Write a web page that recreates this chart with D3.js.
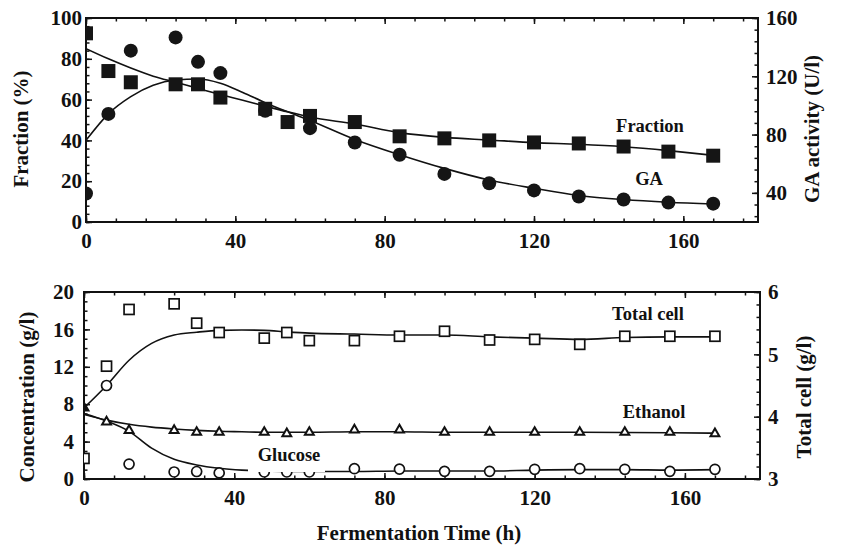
<!DOCTYPE html>
<html lang="en">
<head>
    <meta charset="UTF-8">
    <title>Fermentation time course</title>
    <script src="https://d3js.org/d3.v7.min.js"></script>
    <style>
        body { margin: 0; background-color: #fff; }
        svg { display: block; }
        text { font-family: "Liberation Serif", "Times New Roman", serif; font-weight: bold; fill: #111; }
    </style>
</head>
<body>
    <div id="chart"></div>
    <script>
        // ---- top panel data ----
        const fractionHours = [0, 6, 12, 24, 30, 36, 48, 54, 60, 72, 84, 96, 108, 120, 132, 144, 156, 168];
        const fractionPts = [92.5, 74, 68.5, 67.5, 67.5, 61, 55.5, 49, 52, 49, 42, 41, 40, 39, 38.5, 37, 34.5, 32.5];
        const gaHours = [0, 6, 12, 24, 30, 36, 48, 60, 72, 84, 96, 108, 120, 132, 144, 156, 168];
        const gaPts = [39.6, 94.2, 137.6, 146.7, 129.9, 122.2, 96.3, 84.4, 74.6, 66.2, 53, 46.6, 41.7, 37.5, 35.4, 33.3, 32.6];

        // fitted curves
        const fitHours = [0, 6, 12, 18, 24, 30, 36, 42, 48, 54, 60, 72, 84, 96, 108, 120, 132, 144, 156, 168];
        const fractionFit = [85, 80, 75.5, 71.5, 68.5, 65.5, 62.5, 59.7, 56.8, 54, 51.5, 48, 43.8, 41.5, 40.2, 38.9, 38.1, 36.9, 35, 32.7];
        const gaFit = [76, 94.2, 106, 113.8, 117.4, 118.1, 115.2, 108.9, 101.9, 95.6, 89.7, 76.7, 66.2, 56.8, 48.8, 43.1, 38.2, 35.4, 33.6, 32.4];

        // ---- bottom panel data ----
        const cellHours = [0, 6, 12, 24, 30, 36, 48, 54, 60, 72, 84, 96, 108, 120, 132, 144, 156, 168];
        const cellPts = [3.33, 4.81, 5.72, 5.81, 5.5, 5.35, 5.26, 5.35, 5.22, 5.22, 5.29, 5.37, 5.23, 5.24, 5.16, 5.29, 5.29, 5.29];
        const ethanolHours = [0, 6, 12, 24, 30, 36, 48, 54, 60, 72, 84, 96, 108, 120, 132, 144, 156, 168];
        const ethanolPts = [7.6, 6.1, 5.2, 5.2, 5.0, 5.0, 5.0, 4.85, 5.0, 5.25, 5.25, 5.0, 5.0, 5.0, 5.0, 5.0, 5.0, 4.85];
        const glucoseHours = [6, 12, 24, 30, 36, 48, 54, 60, 72, 84, 96, 108, 120, 132, 144, 156, 168];
        const glucosePts = [10, 1.6, 0.75, 0.8, 0.65, 0.75, 0.75, 0.75, 1.1, 1.05, 0.82, 0.82, 1.04, 1.1, 1.04, 0.82, 1.04];

        const cellFit = [4.14, 4.5, 4.905, 5.175, 5.31, 5.355, 5.385, 5.39, 5.385, 5.36, 5.34, 5.325, 5.31, 5.31, 5.28, 5.26, 5.24, 5.27, 5.28, 5.28];
        const ethanolFit = [6.9, 6.3, 5.85, 5.55, 5.35, 5.2, 5.1, 5.05, 5.0, 5.0, 5.0, 5.05, 5.05, 5.0, 5.0, 5.0, 5.0, 4.98, 4.95, 4.9];
        const glucoseFit = [7.0, 6.2, 5.1, 3.3, 2.1, 1.5, 1.15, 0.95, 0.85, 0.8, 0.8, 0.8, 0.85, 0.85, 0.85, 0.95, 1.0, 1.0, 0.95, 1.0];

        // ticks
        const timeTicks = [0, 40, 80, 120, 160];
        const fractionTicks = [0, 20, 40, 60, 80, 100];
        const gaTicks = [40, 80, 120, 160];
        const concTicks = [0, 4, 8, 12, 16, 20];
        const cellTicks = [3, 4, 5, 6];

        const width = 842, height = 547;
        const svg = d3.select("#chart").append("svg")
            .attr("width", width)
            .attr("height", height);

        const topP = { x0: 86, x1: 758, y0: 18, y1: 222 };
        const botP = { x0: 84, x1: 760, y0: 292, y1: 479 };

        const xTop = d3.scaleLinear().domain([0, 180]).range([topP.x0, topP.x1]);
        const yFrac = d3.scaleLinear().domain([0, 100]).range([topP.y1, topP.y0]);
        const yGA = d3.scaleLinear().domain([20, 160]).range([topP.y1, topP.y0]);

        const xBot = d3.scaleLinear().domain([0, 180]).range([botP.x0, botP.x1]);
        const yConc = d3.scaleLinear().domain([0, 20]).range([botP.y1, botP.y0]);
        const yCell = d3.scaleLinear().domain([3, 6]).range([botP.y1, botP.y0]);

        const defs = svg.append("defs");
        defs.append("clipPath").attr("id", "clipTop").append("rect")
            .attr("x", topP.x0).attr("y", topP.y0 - 10)
            .attr("width", topP.x1 - topP.x0).attr("height", topP.y1 - topP.y0 + 10);
        defs.append("clipPath").attr("id", "clipBot").append("rect")
            .attr("x", botP.x0).attr("y", botP.y0)
            .attr("width", botP.x1 - botP.x0).attr("height", botP.y1 - botP.y0);

        // draws the 4 inward-ticked sides of a panel
        function drawAxes(p, x, yL, yR, yLTicks, yLMinor, yRTicks, yRMinor, leftPad) {
            const g = svg.append("g");
            const fs = "21px";
            const fmt = d3.format("d");

            const minorX = d3.range(0, 181, 8);
            g.append("g").attr("transform", `translate(0,${p.y1})`)
                .call(d3.axisBottom(x).tickValues(minorX).tickSize(-3.5).tickSizeOuter(0).tickFormat(""));
            g.append("g").attr("transform", `translate(0,${p.y1})`)
                .call(d3.axisBottom(x).tickValues(timeTicks).tickSize(-6).tickSizeOuter(0).tickPadding(11).tickFormat(fmt))
                .selectAll("text").style("font-size", fs);
            g.append("g").attr("transform", `translate(0,${p.y0})`)
                .call(d3.axisTop(x).tickValues(minorX).tickSize(-3.5).tickSizeOuter(0).tickFormat(""));
            g.append("g").attr("transform", `translate(0,${p.y0})`)
                .call(d3.axisTop(x).tickValues(timeTicks).tickSize(-6).tickSizeOuter(0).tickFormat(""));

            g.append("g").attr("transform", `translate(${p.x0},0)`)
                .call(d3.axisLeft(yL).tickValues(yLMinor).tickSize(-3.5).tickSizeOuter(0).tickFormat(""));
            g.append("g").attr("transform", `translate(${p.x0},0)`)
                .call(d3.axisLeft(yL).tickValues(yLTicks).tickSize(-6).tickSizeOuter(0).tickPadding(leftPad).tickFormat(fmt))
                .selectAll("text").style("font-size", fs);

            g.append("g").attr("transform", `translate(${p.x1},0)`)
                .call(d3.axisRight(yR).tickValues(yRMinor).tickSize(-3.5).tickSizeOuter(0).tickFormat(""));
            g.append("g").attr("transform", `translate(${p.x1},0)`)
                .call(d3.axisRight(yR).tickValues(yRTicks).tickSize(-6).tickSizeOuter(0).tickPadding(8).tickFormat(fmt))
                .selectAll("text").style("font-size", fs);

            g.selectAll(".domain").remove();
            g.selectAll(".tick line").attr("stroke", "#111").attr("stroke-width", 1.5);
            g.selectAll(".tick text").attr("fill", "#111");

            g.append("rect")
                .attr("x", p.x0).attr("y", p.y0)
                .attr("width", p.x1 - p.x0).attr("height", p.y1 - p.y0)
                .attr("fill", "none").attr("stroke", "#111").attr("stroke-width", 2);
        }

        drawAxes(topP, xTop, yFrac, yGA, fractionTicks, d3.range(0, 101, 4), gaTicks, d3.range(24, 161, 8), 4);
        drawAxes(botP, xBot, yConc, yCell, concTicks, d3.range(0, 21, 1), cellTicks, d3.range(3, 6.01, 0.2), 10);

        // ---- top panel marks ----
        const gTop = svg.append("g").attr("clip-path", "url(#clipTop)");
        const lineStyle = sel => sel.attr("fill", "none").attr("stroke", "#111").attr("stroke-width", 1.6);

        gTop.append("path").datum(fitHours.map((t, i) => [t, fractionFit[i]]))
            .attr("d", d3.line().x(d => xTop(d[0])).y(d => yFrac(d[1])).curve(d3.curveMonotoneX))
            .call(lineStyle);
        gTop.append("path").datum(fitHours.map((t, i) => [t, gaFit[i]]))
            .attr("d", d3.line().x(d => xTop(d[0])).y(d => yGA(d[1])).curve(d3.curveMonotoneX))
            .call(lineStyle);

        gTop.selectAll(".frac").data(fractionHours.map((t, i) => [t, fractionPts[i]]))
            .enter().append("rect")
            .attr("x", d => xTop(d[0]) - 7).attr("y", d => yFrac(d[1]) - 7)
            .attr("width", 14).attr("height", 14)
            .attr("fill", "#151515");
        gTop.selectAll(".ga").data(gaHours.map((t, i) => [t, gaPts[i]]))
            .enter().append("circle")
            .attr("cx", d => xTop(d[0])).attr("cy", d => yGA(d[1]))
            .attr("r", 7)
            .attr("fill", "#151515");

        // ---- bottom panel marks ----
        const gBot = svg.append("g").attr("clip-path", "url(#clipBot)");

        gBot.append("path").datum(fitHours.map((t, i) => [t, cellFit[i]]))
            .attr("d", d3.line().x(d => xBot(d[0])).y(d => yCell(d[1])).curve(d3.curveMonotoneX))
            .call(lineStyle);
        gBot.append("path").datum(fitHours.map((t, i) => [t, ethanolFit[i]]))
            .attr("d", d3.line().x(d => xBot(d[0])).y(d => yConc(d[1])).curve(d3.curveMonotoneX))
            .call(lineStyle);
        gBot.append("path").datum(fitHours.map((t, i) => [t, glucoseFit[i]]))
            .attr("d", d3.line().x(d => xBot(d[0])).y(d => yConc(d[1])).curve(d3.curveMonotoneX))
            .call(lineStyle);

        gBot.selectAll(".cell").data(cellHours.map((t, i) => [t, cellPts[i]]))
            .enter().append("rect")
            .attr("x", d => xBot(d[0]) - 5).attr("y", d => yCell(d[1]) - 5)
            .attr("width", 10).attr("height", 10)
            .attr("fill", "#fff").attr("stroke", "#111").attr("stroke-width", 1.7);

        const tri = d3.symbol().type(d3.symbolTriangle).size(34);
        gBot.selectAll(".eth").data(ethanolHours.map((t, i) => [t, ethanolPts[i]]))
            .enter().append("path")
            .attr("d", tri)
            .attr("transform", d => `translate(${xBot(d[0])},${yConc(d[1])})`)
            .attr("fill", d => d[0] === 0 ? "#111" : "#fff")
            .attr("stroke", "#111").attr("stroke-width", 2);

        gBot.selectAll(".glu").data(glucoseHours.map((t, i) => [t, glucosePts[i]]))
            .enter().append("circle")
            .attr("cx", d => xBot(d[0])).attr("cy", d => yConc(d[1]))
            .attr("r", 5)
            .attr("fill", "#fff").attr("stroke", "#111").attr("stroke-width", 1.7);

        // ---- labels ----
        const label = (x, y, txt, size) => svg.append("text")
            .attr("x", x).attr("y", y)
            .attr("text-anchor", "middle")
            .style("font-size", size)
            .text(txt);

        label(650, 132, "Fraction", "18.5px");
        label(649, 185, "GA", "18.5px");
        label(648, 320, "Total cell", "18.5px");
        label(654, 418, "Ethanol", "18.5px");

        // glucose label sits on a white patch that hides the line under it
        svg.append("rect")
            .attr("x", 248).attr("y", 442)
            .attr("width", 77).attr("height", 30)
            .attr("fill", "#fff");
        label(289, 461, "Glucose", "18.5px");

        const vlabel = (x, y, txt) => svg.append("text")
            .attr("transform", `translate(${x},${y}) rotate(-90)`)
            .attr("text-anchor", "middle")
            .style("font-size", "21px")
            .text(txt);

        vlabel(28, 129, "Fraction (%)");
        vlabel(819, 129, "GA activity (U/l)");
        vlabel(34, 397, "Concentration (g/l)");
        vlabel(811, 397, "Total cell (g/l)");

        label(419, 540, "Fermentation Time (h)", "21px");
    </script>
</body>
</html>
